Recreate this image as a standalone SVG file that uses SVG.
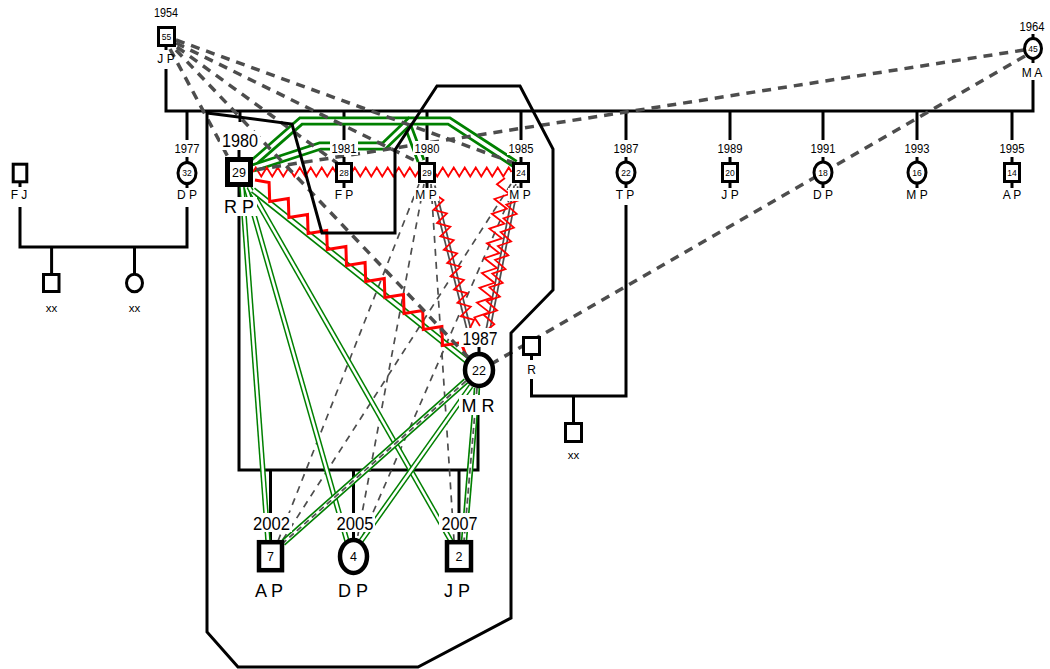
<svg xmlns="http://www.w3.org/2000/svg" width="1050" height="669" viewBox="0 0 1050 669">
<style>
text{font-family:"Liberation Sans",Arial,sans-serif;fill:#000;text-anchor:middle}
.yr{font-size:12.5px}
.yrL{font-size:19px}
.nm{font-size:12px}
.nmL{font-size:18px}
.num{font-size:8.5px}
.numL{font-size:12.5px}
.xx{font-size:11.5px}
.bg{fill:#fff}
.fam{stroke:#000;stroke-width:3;fill:none}
.nd{fill:#fff;stroke:#000;stroke-width:3}
.ndL{fill:#fff;stroke:#000;stroke-width:4.5}
.bnd{fill:none;stroke:#000;stroke-width:3}
.gO{fill:none;stroke:#008000;stroke-width:9}
.gI{fill:none;stroke:#fff;stroke-width:3.5}
.gOs{fill:none;stroke:#008000;stroke-width:5.5}
.gIs{fill:none;stroke:#fff;stroke-width:2.5}
.gOm{fill:none;stroke:#008000;stroke-width:6.5}
.gIm{fill:none;stroke:#fff;stroke-width:3.2}
.dIn{fill:none;stroke:#555;stroke-width:1.8;stroke-dasharray:6 4}
.dsh{fill:none;stroke:#4d4d4d;stroke-width:3.5;stroke-dasharray:9 7}
.dshS{fill:none;stroke:#4d4d4d;stroke-width:1.7;stroke-dasharray:7 6}
.gr{fill:none;stroke:#4d4d4d;stroke-width:5.5}
.grI{fill:none;stroke:#fff;stroke-width:2}
.zz{fill:none;stroke:#f00;stroke-width:1.8}
.zzB{fill:none;stroke:#f00;stroke-width:3}
</style>
<defs>
<path id="c1" d="M253,163L301,121L406,121L421,161"/>
<path id="c2" d="M253,168L320,146L384,146L410,121L449,121L515,164"/>
<path id="c3" d="M242,187L268,541"/>
<path id="c4" d="M246,187L347,541"/>
<path id="c5" d="M249,187L451,541"/>
<path id="c6" d="M253,190L467,361"/>
<path id="c7" d="M466,381L283,543"/>
<path id="c8" d="M471,386L361,541"/>
<path id="c9" d="M477,388L464,541"/>
<path id="c10" d="M433,186L469,330"/>
<path id="c11" d="M516,186L488,330"/>
</defs>
<rect width="1050" height="669" fill="#fff"/>

<g id="connectors">
<!-- family lines -->
<path class="fam" d="M166,69V111H1033V80"/>
<path class="fam" d="M187,111V140M240,111V122M344,111V140M427,111V140M521,111V140M626,111V140M730,111V140M823,111V140M917,111V140M1012,111V140"/>
<path class="fam" d="M20,207V247H187V207M51.6,247V274M134.5,247V274"/>
<path class="fam" d="M239,187V470H478V388M270.5,470V541M353.5,470V541M459,470V541"/>
<path class="fam" d="M531.5,379V396H626V205M573.5,396V423"/>
<!-- parent / child dashed links -->
<path class="dshS" d="M419,184L278,541"/>
<path class="dshS" d="M424,184L357,540"/>
<path class="dshS" d="M431,184L454,540"/>
<path class="dshS" d="M511,184L282,541"/>
<path class="dshS" d="M516,184L361,540"/>
<!-- gray doubles -->
<use href="#c10" class="gr"/><use href="#c10" class="grI"/>
<use href="#c11" class="gr"/><use href="#c11" class="grI"/>
<!-- green doubles -->
<use href="#c1" class="gO"/><use href="#c1" class="gI"/>
<use href="#c2" class="gO"/><use href="#c2" class="gI"/>
<use href="#c3" class="gOs"/><use href="#c3" class="gIs"/>
<use href="#c4" class="gOs"/><use href="#c4" class="gIs"/>
<use href="#c5" class="gOs"/><use href="#c5" class="gIs"/>
<use href="#c6" class="gOm"/><use href="#c6" class="gIm"/>
<use href="#c7" class="gOm"/><use href="#c7" class="gIm"/><use href="#c7" class="dIn"/>
<use href="#c8" class="gOs"/><use href="#c8" class="gIs"/>
<use href="#c9" class="gOm"/><use href="#c9" class="gIm"/><use href="#c9" class="dIn"/>
<!-- red hostile zigzags -->
<path class="zz" d="M253,172l2.75,-4.5l5.5,9l5.5,-9l5.5,9l5.5,-9l5.5,9l5.5,-9l5.5,9l5.5,-9l5.5,9l5.5,-9l5.5,9l5.5,-9l5.5,9l5.5,-9l5.5,9l5.5,-9l5.5,9l5.5,-9l5.5,9l5.5,-9l5.5,9l5.5,-9l5.5,9l5.5,-9l5.5,9l5.5,-9l5.5,9l5.5,-9l5.5,9l5.5,-9l5.5,9l5.5,-9l5.5,9l5.5,-9l5.5,9l5.5,-9l5.5,9l5.5,-9l5.5,9l5.5,-9l5.5,9l5.5,-9l5.5,9l5.5,-9l5.5,9l5.5,-9l2.75,4.5"/>
<polyline class="zzB" points="255,180 269.1,182.6 269.7,201.4 288.3,198.6 288.9,217.4 307.5,214.6 308.1,233.4 326.7,230.6 327.3,249.4 345.9,246.6 346.5,265.4 365.1,262.6 365.7,281.4 384.3,278.6 384.9,297.4 403.5,294.6 404.1,313.4 422.7,310.6 423.3,329.4 441.9,326.6 442.5,345.4 461.1,342.6 466.2,356"/>
<polyline class="zz" points="505,178 496.9,184.2 509.4,194 494.4,199 506.9,208.8 491.9,213.8 504.4,223.6 489.4,228.6 501.9,238.4 486.9,243.4 499.4,253.2 484.4,258.2 496.9,268 481.9,273 494.4,282.8 479.4,287.8 491.9,297.6 476.9,302.6 489.4,312.4 474.4,317.4 480,326"/>
<polyline class="zz" points="436,195 443.5,200.2 433.6,209.8 446.9,213.5 437,223.1 450.3,226.8 440.4,236.4 453.7,240.1 443.8,249.7 457.1,253.4 447.2,263 460.5,266.7 450.6,276.3 463.9,280 454,289.6 467.3,293.3 457.4,302.9 470.7,306.6 460.8,316.2 474.1,319.9 470,328"/>
<polyline class="zz" points="515,192 519.5,200.1 506.3,204.6 516.7,213.9 503.5,218.4 513.9,227.7 500.7,232.2 511.1,241.5 497.9,246 508.3,255.3 495.1,259.8 505.5,269.1 492.3,273.6 502.7,282.9 489.5,287.4 499.9,296.7 486.7,301.2 497.1,310.5 483.9,315 494.3,324.3 487,330"/>
<!-- grandparent dashed links -->
<path class="dsh" d="M176,40L514,163"/>
<path class="dsh" d="M176,43L420,163"/>
<path class="dsh" d="M177,47L337,163"/>
<path class="dsh" d="M176,50L468,357"/>
<path class="dsh" d="M170,49L228,157"/>
<path class="dsh" d="M1024,50L254,170"/>
<path class="dsh" d="M1025,56L493,363"/>
</g>

<g id="household">
<polygon class="bnd" points="207,113 292,124 322,233 395,233 395,150 437,86 520,86 553,149 553,290 511,333 511,618 418,667 238,667 207,632"/>
</g>

<g id="n-jp1954">
<text class="yr" x="166" y="17" textLength="24" lengthAdjust="spacingAndGlyphs">1954</text>
<path class="fam" d="M166,45V50"/>
<rect class="nd" x="158.5" y="27.5" width="16" height="18"/>
<text class="num" x="166.5" y="39.5">55</text>
<text class="nm" x="166" y="63">J P</text>
</g>
<g id="n-ma1964">
<text class="yr" x="1032" y="31" textLength="25" lengthAdjust="spacingAndGlyphs">1964</text>
<path class="fam" d="M1033,34V63"/>
<ellipse class="nd" cx="1033" cy="48.5" rx="8.5" ry="10"/>
<text class="num" x="1033" y="51.5">45</text>
<text class="nm" x="1032" y="77">M A</text>
</g>

<g id="n-dp1977">
<rect class="bg" x="173" y="141" width="28" height="14"/>
<text class="yr" x="187" y="153" textLength="25" lengthAdjust="spacingAndGlyphs">1977</text>
<path class="fam" d="M187,157V188"/>
<ellipse class="nd" cx="187" cy="173" rx="9" ry="10.5"/>
<text class="num" x="187" y="176">32</text>
<rect class="bg" x="175" y="188" width="24" height="13"/>
<text class="nm" x="187" y="199">D P</text>
</g>

<g id="n-rp1980">
<rect class="bg" x="220" y="131" width="40" height="19"/>
<text class="yrL" x="240" y="147" textLength="36" lengthAdjust="spacingAndGlyphs">1980</text>
<path class="fam" d="M239,150V158"/>
<rect x="227.5" y="159.5" width="23" height="25" fill="#fff" stroke="#000" stroke-width="5"/>
<text class="numL" x="239" y="176.5">29</text>
<rect class="bg" x="221" y="197" width="36" height="19"/>
<text class="nmL" x="239" y="213">R P</text>
</g>

<g id="n-fp1981">
<rect class="bg" x="330" y="141" width="28" height="14"/>
<text class="yr" x="344" y="153" textLength="25" lengthAdjust="spacingAndGlyphs">1981</text>
<path class="fam" d="M344,157V188"/>
<rect class="nd" x="336.5" y="163.5" width="15" height="18"/>
<text class="num" x="344" y="175.5">28</text>
<rect class="bg" x="332" y="188" width="24" height="13"/>
<text class="nm" x="344" y="199">F P</text>
</g>

<g id="n-mp1980">
<rect class="bg" x="413" y="141" width="28" height="14"/>
<text class="yr" x="427" y="153" textLength="25" lengthAdjust="spacingAndGlyphs">1980</text>
<path class="fam" d="M427,157V188"/>
<rect class="nd" x="419.5" y="163.5" width="15" height="18"/>
<text class="num" x="427" y="175.5">29</text>
<rect class="bg" x="414" y="188" width="25" height="13"/>
<text class="nm" x="426" y="199">M P</text>
</g>

<g id="n-mp1985">
<rect class="bg" x="507" y="141" width="28" height="14"/>
<text class="yr" x="521" y="153" textLength="25" lengthAdjust="spacingAndGlyphs">1985</text>
<path class="fam" d="M521,157V188"/>
<rect class="nd" x="513.5" y="163.5" width="15" height="18"/>
<text class="num" x="521" y="175.5">24</text>
<rect class="bg" x="508" y="188" width="25" height="13"/>
<text class="nm" x="520" y="199">M P</text>
</g>

<g id="n-tp1987">
<rect class="bg" x="612" y="141" width="28" height="14"/>
<text class="yr" x="626" y="153" textLength="25" lengthAdjust="spacingAndGlyphs">1987</text>
<path class="fam" d="M626,157V188"/>
<ellipse class="nd" cx="626" cy="172.5" rx="9" ry="10.5"/>
<text class="num" x="626" y="175.5">22</text>
<text class="nm" x="625" y="199">T P</text>
</g>

<g id="n-jp1989">
<text class="yr" x="730" y="153" textLength="25" lengthAdjust="spacingAndGlyphs">1989</text>
<path class="fam" d="M730,157V188"/>
<rect class="nd" x="722.5" y="163.5" width="15" height="18"/>
<text class="num" x="730" y="175.5">20</text>
<text class="nm" x="730" y="199">J P</text>
</g>

<g id="n-dp1991">
<text class="yr" x="823" y="153" textLength="25" lengthAdjust="spacingAndGlyphs">1991</text>
<path class="fam" d="M823,157V188"/>
<ellipse class="nd" cx="823" cy="172.5" rx="9" ry="10.5"/>
<text class="num" x="823" y="175.5">18</text>
<text class="nm" x="823" y="199">D P</text>
</g>

<g id="n-mp1993">
<text class="yr" x="917" y="153" textLength="25" lengthAdjust="spacingAndGlyphs">1993</text>
<path class="fam" d="M917,157V188"/>
<ellipse class="nd" cx="917" cy="172.5" rx="9" ry="10.5"/>
<text class="num" x="917" y="175.5">16</text>
<text class="nm" x="917" y="199">M P</text>
</g>

<g id="n-ap1995">
<text class="yr" x="1012" y="153" textLength="25" lengthAdjust="spacingAndGlyphs">1995</text>
<path class="fam" d="M1012,157V188"/>
<rect class="nd" x="1004.5" y="163.5" width="15" height="18"/>
<text class="num" x="1012" y="175.5">14</text>
<text class="nm" x="1012" y="199">A P</text>
</g>

<g id="n-fj">
<path class="fam" d="M20,180V187"/>
<rect class="nd" x="13.2" y="164.2" width="13.6" height="17.6"/>
<text class="nm" x="19" y="199">F J</text>
</g>
<g id="n-xx1">
<rect class="nd" x="43.5" y="274.5" width="15.5" height="17"/>
<text class="xx" x="51.5" y="312">xx</text>
</g>
<g id="n-xx2">
<ellipse class="nd" cx="134.5" cy="283" rx="8" ry="8.8"/>
<text class="xx" x="134.5" y="312">xx</text>
</g>

<g id="n-r">
<path class="fam" d="M531.5,354V360"/>
<rect class="nd" x="523.5" y="337.5" width="16" height="17"/>
<text class="nm" x="531.5" y="374">R</text>
</g>
<g id="n-xx3">
<rect class="nd" x="565.5" y="423.5" width="16" height="18"/>
<text class="xx" x="573.5" y="459">xx</text>
</g>

<g id="n-mr1987">
<rect class="bg" x="459" y="328" width="41" height="19"/>
<text class="yrL" x="480" y="345" textLength="35" lengthAdjust="spacingAndGlyphs">1987</text>
<path class="fam" d="M479,347V354"/>
<ellipse class="ndL" cx="479" cy="370" rx="14" ry="16"/>
<text class="numL" x="479" y="374.5">22</text>
<rect class="bg" x="459" y="395" width="40" height="20"/>
<text class="nmL" x="478" y="412">M R</text>
</g>

<g id="n-ap2002">
<rect class="bg" x="251" y="513" width="41" height="19"/>
<text class="yrL" x="271.5" y="530" textLength="37" lengthAdjust="spacingAndGlyphs">2002</text>
<rect class="ndL" x="259" y="542.2" width="23" height="28"/>
<text class="numL" x="270.5" y="560.5">7</text>
<text class="nmL" x="269" y="597">A P</text>
</g>

<g id="n-dp2005">
<rect class="bg" x="334" y="513" width="41" height="19"/>
<text class="yrL" x="355" y="530" textLength="37" lengthAdjust="spacingAndGlyphs">2005</text>
<ellipse class="ndL" cx="353.5" cy="556.5" rx="13.5" ry="16.5"/>
<text class="numL" x="353.5" y="561">4</text>
<text class="nmL" x="353" y="597">D P</text>
</g>

<g id="n-jp2007">
<rect class="bg" x="439" y="513" width="41" height="19"/>
<text class="yrL" x="459.5" y="530" textLength="36" lengthAdjust="spacingAndGlyphs">2007</text>
<rect class="ndL" x="447" y="542.2" width="24" height="28"/>
<text class="numL" x="459" y="560.5">2</text>
<text class="nmL" x="457" y="597">J P</text>
</g>
</svg>
